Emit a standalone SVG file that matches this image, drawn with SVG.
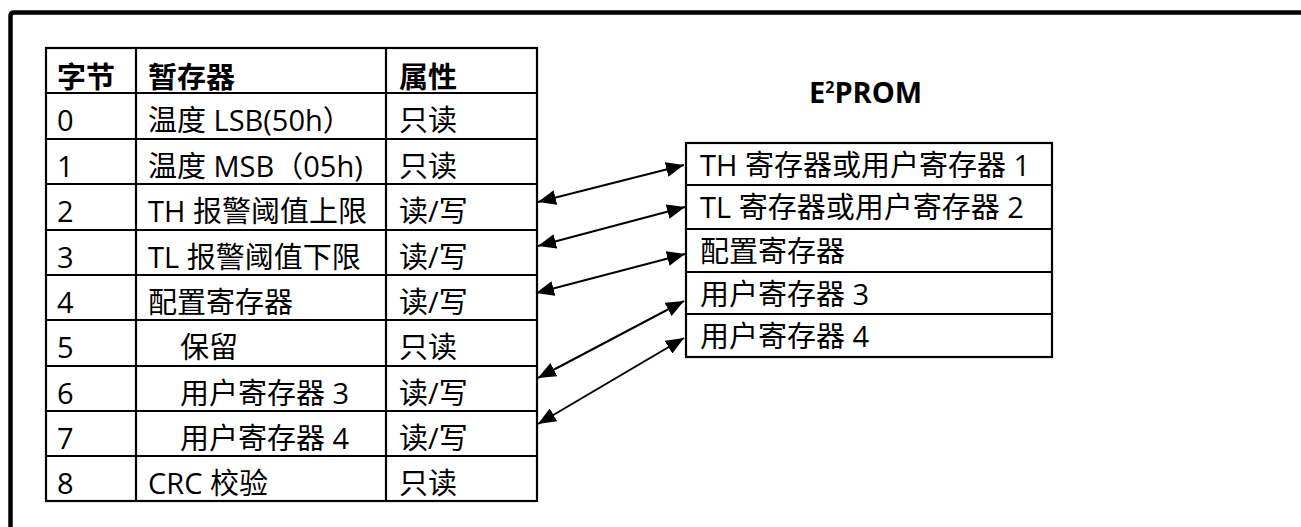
<svg xmlns="http://www.w3.org/2000/svg" width="1301" height="527" viewBox="0 0 1301 527">
  <style>
    text { font-family: "Open Sans", "Noto Sans CJK SC", sans-serif; font-size: 29px; fill: #000; }
    .hd { font-weight: bold; }
    .grid { fill: none; stroke: #000; stroke-width: 2.2; }
    .conn { stroke: #000; stroke-width: 2; fill: none; marker-start: url(#ah); marker-end: url(#ah); }
    .frame { fill: none; stroke: #000; stroke-width: 4.5; }
  </style>
  <defs>
    <marker id="ah" markerUnits="userSpaceOnUse" markerWidth="19" markerHeight="15" refX="18" refY="7.5" orient="auto-start-reverse">
      <path d="M0,0 L18,7.5 L0,15 z" fill="#000"/>
    </marker>
  </defs>
  <rect width="1301" height="527" fill="#fff"/>
  <path class="frame" d="M10.5,532 V16 Q10.5,12.5 14,12.5 H1310"/>

  <g id="scratchpad">
    <rect class="grid" x="46" y="48" width="491" height="453"/>
    <path class="grid" d="M136,48 V501 M386,48 V501 M46,93 H537 M46,139 H537 M46,184 H537 M46,230 H537 M46,275 H537 M46,320 H537 M46,366 H537 M46,411 H537 M46,456 H537"/>
    <g id="header">
      <text class="hd" x="57" y="88">字节</text>
      <text class="hd" x="148" y="88">暂存器</text>
      <text class="hd" x="399" y="88">属性</text>
    </g>
    <g id="row0"><text x="57" y="131">0</text><text x="148" y="131">温度 LSB(50h）</text><text x="399" y="131">只读</text></g>
    <g id="row1"><text x="57" y="177">1</text><text x="148" y="177">温度 MSB（05h)</text><text x="399" y="177">只读</text></g>
    <g id="row2"><text x="57" y="222">2</text><text x="148" y="222">TH 报警阈值上限</text><text x="399" y="222">读/写</text></g>
    <g id="row3"><text x="57" y="268">3</text><text x="148" y="268">TL 报警阈值下限</text><text x="399" y="268">读/写</text></g>
    <g id="row4"><text x="57" y="313">4</text><text x="148" y="313">配置寄存器</text><text x="399" y="313">读/写</text></g>
    <g id="row5"><text x="57" y="358">5</text><text x="180" y="358">保留</text><text x="399" y="358">只读</text></g>
    <g id="row6"><text x="57" y="404">6</text><text x="180" y="404">用户寄存器 3</text><text x="399" y="404">读/写</text></g>
    <g id="row7"><text x="57" y="449">7</text><text x="180" y="449">用户寄存器 4</text><text x="399" y="449">读/写</text></g>
    <g id="row8"><text x="57" y="494">8</text><text x="148" y="494">CRC 校验</text><text x="399" y="494">只读</text></g>
  </g>

  <g id="eeprom-title">
    <text class="hd" x="809" y="103">E<tspan font-size="16" dy="-10">2</tspan><tspan dy="10">PROM</tspan></text>
  </g>

  <g id="eeprom">
    <rect class="grid" x="686" y="143" width="366" height="214"/>
    <path class="grid" d="M686,185 H1052 M686,229 H1052 M686,272 H1052 M686,314 H1052"/>
    <text x="700" y="176">TH 寄存器或用户寄存器 1</text>
    <text x="700" y="218">TL 寄存器或用户寄存器 2</text>
    <text x="700" y="262">配置寄存器</text>
    <text x="700" y="305">用户寄存器 3</text>
    <text x="700" y="347">用户寄存器 4</text>
  </g>

  <g id="connectors">
    <line class="conn" x1="538" y1="202" x2="684" y2="165"/>
    <line class="conn" x1="538" y1="246" x2="685" y2="207"/>
    <line class="conn" x1="536" y1="293" x2="685" y2="254"/>
    <line class="conn" x1="538" y1="378" x2="684" y2="301"/>
    <line class="conn" x1="538" y1="424" x2="684" y2="338"/>
  </g>
</svg>
